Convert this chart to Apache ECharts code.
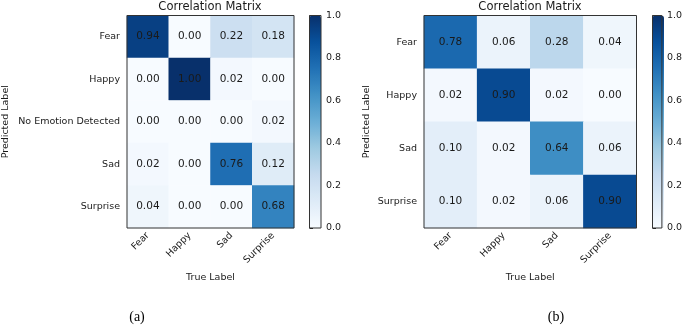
<!DOCTYPE html>
<html>
<head>
<meta charset="utf-8">
<script src="https://cdn.jsdelivr.net/npm/echarts@6/dist/echarts.min.js"></script>
<style>
  html, body { margin: 0; padding: 0; background: #fff; }
  #chart { width: 685px; height: 326px; }
</style>
</head>
<body>
<div id="chart"></div>
<script>
// true labels (columns) and predicted labels (rows)
const trueLabels = ["Fear", "Happy", "Sad", "Surprise"];
const predLabelsA = ["Fear", "Happy", "No Emotion Detected", "Sad", "Surprise"];
const predLabelsB = ["Fear", "Happy", "Sad", "Surprise"];

// rows = predicted, cols = true
const matrixA = [
  [0.94, 0.00, 0.22, 0.18],
  [0.00, 1.00, 0.02, 0.00],
  [0.00, 0.00, 0.00, 0.02],
  [0.02, 0.00, 0.76, 0.12],
  [0.04, 0.00, 0.00, 0.68]
];
const matrixB = [
  [0.78, 0.06, 0.28, 0.04],
  [0.02, 0.90, 0.02, 0.00],
  [0.10, 0.02, 0.64, 0.06],
  [0.10, 0.02, 0.06, 0.90]
];

const blues = ["#f7fbff", "#deebf7", "#c6dbef", "#9ecae1", "#6baed6",
               "#4292c6", "#2171b5", "#08519c", "#08306b"];
const font = "DejaVu Sans";
const txt = "#1a1a1a";

function toCells(m) {
  let out = [];
  m.forEach((row, r) => row.forEach((v, c) => out.push([c, r, v])));
  return out;
}

const chart = echarts.init(document.getElementById("chart"));

function heatX(idx, gap) {
  return {
    type: "category", gridIndex: idx, data: trueLabels,
    name: "True Label", nameLocation: "middle", nameGap: gap,
    nameTextStyle: { fontFamily: font, fontSize: 9.5, color: txt },
    axisLine: { show: false },
    axisTick: { alignWithLabel: true, length: 3.5, lineStyle: { color: txt } },
    axisLabel: { rotate: 45, margin: 6, fontFamily: font, fontSize: 9.5, color: txt },
    splitLine: { show: false }
  };
}
function heatY(idx, labels, gap) {
  return {
    type: "category", gridIndex: idx, data: labels, inverse: true,
    name: "Predicted Label", nameLocation: "middle", nameGap: gap, nameRotate: 90,
    nameTextStyle: { fontFamily: font, fontSize: 9.5, color: txt },
    axisLine: { show: false },
    axisTick: { alignWithLabel: true, length: 3.5, lineStyle: { color: txt } },
    axisLabel: { margin: 7, fontFamily: font, fontSize: 9.5, color: txt },
    splitLine: { show: false }
  };
}
function barX(idx) {
  return { type: "value", gridIndex: idx, show: false, min: 0, max: 1 };
}
function barY(idx) {
  return {
    type: "value", gridIndex: idx, min: 0, max: 1, interval: 0.2, position: "right",
    axisLine: { show: false },
    axisTick: { show: true, length: 3.5, inside: false, lineStyle: { color: txt } },
    axisLabel: { margin: 5, fontFamily: font, fontSize: 9.5, color: txt,
                 formatter: v => v.toFixed(1) },
    splitLine: { show: false }
  };
}
const boxGrid = (l, t, w, h) => ({
  left: l, top: t, width: w, height: h, show: true, z: 10,
  backgroundColor: "transparent", borderColor: "#333", borderWidth: 1
});

const option = {
  backgroundColor: "#fff",
  animation: false,
  title: [
    { text: "Correlation Matrix", left: 210, top: 1, textAlign: "center", padding: 0,
      textStyle: { fontFamily: font, fontSize: 11.5, fontWeight: "normal", color: txt } },
    { text: "Correlation Matrix", left: 530, top: 1, textAlign: "center", padding: 0,
      textStyle: { fontFamily: font, fontSize: 11.5, fontWeight: "normal", color: txt } },
    { text: "(a)", left: 137, top: 310, textAlign: "center", padding: 0,
      textStyle: { fontFamily: "Liberation Serif", fontSize: 14, fontWeight: "normal", color: "#000" } },
    { text: "(b)", left: 556, top: 310, textAlign: "center", padding: 0,
      textStyle: { fontFamily: "Liberation Serif", fontSize: 14, fontWeight: "normal", color: "#000" } }
  ],
  grid: [
    boxGrid(125.5, 15.5, 168.5, 212.5),
    boxGrid(424, 15.5, 212.5, 212.5),
    boxGrid(309.5, 15.5, 11.5, 212.5),
    boxGrid(652.5, 15.5, 11.5, 212.5)
  ],
  xAxis: [heatX(0, 45), heatX(1, 45), barX(2), barX(3)],
  yAxis: [heatY(0, predLabelsA, 116), heatY(1, predLabelsB, 52), barY(2), barY(3)],
  visualMap: [
    { type: "continuous", seriesIndex: 0, min: 0, max: 1, calculable: false,
      left: 309.5, top: 15.5, itemWidth: 11.5, itemHeight: 212.5, padding: 0,
      text: null, inRange: { color: blues } },
    { type: "continuous", seriesIndex: 1, min: 0, max: 1, calculable: false,
      left: 652.5, top: 15.5, itemWidth: 11.5, itemHeight: 212.5, padding: 0,
      text: null, inRange: { color: blues } }
  ],
  series: [
    { type: "heatmap", xAxisIndex: 0, yAxisIndex: 0, data: toCells(matrixA),
      label: { show: true, fontFamily: font, fontSize: 10.5, color: txt,
               formatter: p => p.value[2].toFixed(2) },
      emphasis: { disabled: true } },
    { type: "heatmap", xAxisIndex: 1, yAxisIndex: 1, data: toCells(matrixB),
      label: { show: true, fontFamily: font, fontSize: 10.5, color: txt,
               formatter: p => p.value[2].toFixed(2) },
      emphasis: { disabled: true } }
  ]
};
chart.setOption(option);
</script>
</body>
</html>
